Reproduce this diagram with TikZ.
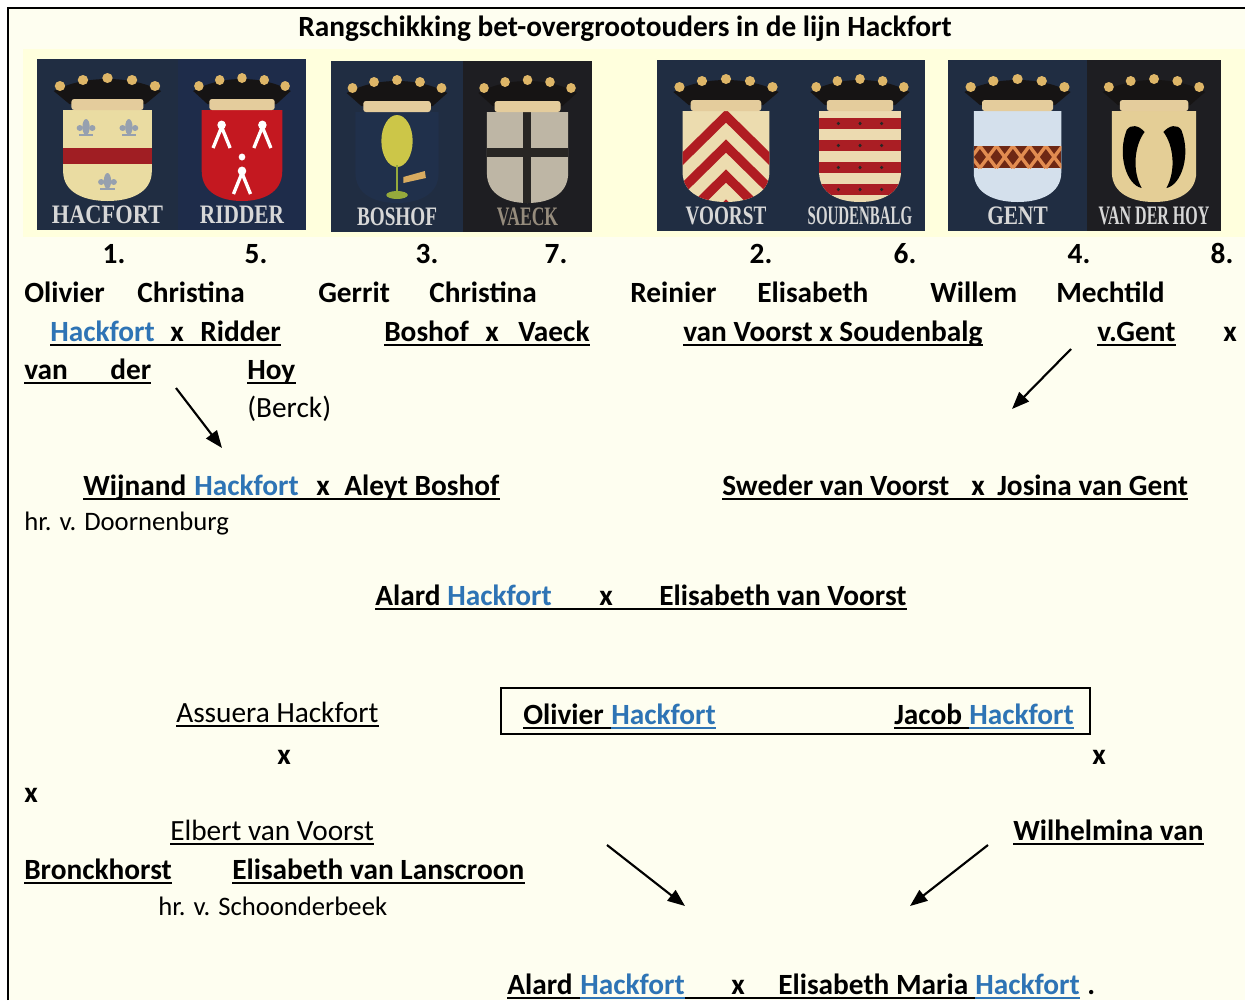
\documentclass[tikz,border=0pt]{standalone}
\usepackage{fontspec}
\usepackage{graphicx}
\setmainfont{Carlito}
\newfontfamily\armsfont{Liberation Serif}
\usetikzlibrary{positioning,arrows.meta}

\definecolor{paper}{RGB}{254,254,240}
\definecolor{band}{RGB}{255,255,221}
\definecolor{hblue}{RGB}{46,116,181}
\definecolor{navy}{RGB}{32,45,66}
\definecolor{navyr}{RGB}{30,44,74}
\definecolor{darkbg}{RGB}{30,30,34}
\definecolor{crownblk}{RGB}{22,20,20}
\definecolor{gold}{RGB}{222,182,104}
\definecolor{beige}{RGB}{228,204,156}
\definecolor{lblgrey}{RGB}{215,215,215}
\definecolor{lbldim}{RGB}{150,140,125}
\definecolor{hcream}{RGB}{234,220,162}
\definecolor{hred}{RGB}{160,30,35}
\definecolor{fleur}{RGB}{150,160,175}
\definecolor{rred}{RGB}{196,24,32}
\definecolor{shnavy}{RGB}{32,48,75}
\definecolor{treey}{RGB}{204,198,72}
\definecolor{treeg}{RGB}{150,170,60}
\definecolor{vgrey}{RGB}{190,182,165}
\definecolor{vdark}{RGB}{40,38,36}
\definecolor{vcream}{RGB}{236,220,175}
\definecolor{vred}{RGB}{176,28,34}
\definecolor{sred}{RGB}{170,30,36}
\definecolor{scream}{RGB}{236,218,176}
\definecolor{gpale}{RGB}{212,224,236}
\definecolor{gbrown}{RGB}{110,40,20}
\definecolor{gorange}{RGB}{226,140,80}
\definecolor{hgold}{RGB}{228,206,150}

\newcommand{\bsize}{\fontsize{22}{26}\selectfont}
\newcommand{\ssize}{\fontsize{20}{24}\selectfont}
\newcommand{\shieldpath}{(25,51) -- (25,112) .. controls (25,134) and (46,142) .. (67.5,142) .. controls (89,142) and (110,134) .. (110,112) -- (110,51) -- cycle}
% one painted tile: background, field, crown, name
\newcommand{\tile}[5]{%
  \fill[#1] (0,0) rectangle (135,171);
  #5
  \fill[crownblk] (16,32) .. controls (45,16) and (90,16) .. (119,32) -- (104,45) -- (31,45) -- cycle;
  \foreach \cx/\cy in {22/27,44/21,67.5/19,91/21,113/27} \fill[gold] (\cx,\cy) circle (5);
  \fill[beige, rounded corners=2pt] (33,40) rectangle (102,51);
  \node[lbl] (#2) at (67.5,156) {\scalebox{#4}[1]{#3}};
}
\newcommand{\under}[3][black]{\draw[ul,#1] ([yshift=-3pt]#2.base west) -- ([yshift=-3pt]#3.base east);}

\tikzset{
  nm/.style={inner sep=0pt, anchor=base west, font=\bsize\bfseries},
  rg/.style={inner sep=0pt, anchor=base west, font=\bsize},
  sm/.style={inner sep=0pt, anchor=base west, font=\ssize},
  ul/.style={line width=1.5pt},
  arr/.style={line width=1.6pt, -{Triangle[length=13pt,width=10pt]}},
  lbl/.style={inner sep=0pt, font=\armsfont\bfseries\fontsize{20}{20}\selectfont, text=lblgrey},
}

\begin{document}
\begin{tikzpicture}[x=0.75pt,y=-0.75pt]
  \useasboundingbox (0,0) rectangle (1245,1000);
  \fill[white] (0,0) rectangle (1245,1000);
  \fill[paper] (8,8) rectangle (1245,1000);
  \fill[band] (23,49) rectangle (1245,237);
  \draw[line width=1.8pt] (8,1000) -- (8,8) -- (1245,8);

  \node[nm, anchor=base] (title) at (625,36) {Rangschikking bet-overgrootouders in de lijn Hackfort};

  % the eight coats of arms
  \begin{scope}[shift={(37,59)}, xscale=1.044]
    \tile{navy}{arms1}{HACFORT}{0.84}{
      \fill[hcream] \shieldpath;
      \fill[hred] (25,89) rectangle (110,105);
      \foreach \fx/\fy in {47/68,88/68,67.5/122} {
        \fill[fleur] (\fx,\fy) ellipse (3.5 and 8);
        \fill[fleur] ({\fx-6},{\fy+1}) circle (3);
        \fill[fleur] ({\fx+6},{\fy+1}) circle (3);
        \fill[fleur] ({\fx-7},{\fy+7}) rectangle ({\fx+7},{\fy+9});
      }}
  \end{scope}
  \begin{scope}[shift={(178,59)}, xscale=0.948]
    \tile{navyr}{arms5}{RIDDER}{0.8}{
      \fill[rred] \shieldpath;
      \foreach \fx/\fy in {46/74,89/74,67.5/120} {
        \draw[white, line width=2.5pt] ({\fx-9},{\fy+15}) -- (\fx,{\fy-6}) -- ({\fx+9},{\fy+15});
        \fill[white] (\fx,{\fy-8}) circle (4.5);
      }
      \fill[white] (67.5,98) circle (3.5);}
  \end{scope}
  \begin{scope}[shift={(331,61)}, xscale=0.978]
    \tile{navy}{arms3}{BOSHOF}{0.72}{
      \fill[shnavy] \shieldpath;
      \fill[treey] (67.5,80) ellipse (16 and 26);
      \draw[treeg, line width=2pt] (67.5,104) -- (67.5,132);
      \fill[treeg] (67.5,134) ellipse (11 and 4);
      \fill[gold!80!brown] (74,116) -- (96,110) -- (97,117) -- (74,122) -- cycle;}
  \end{scope}
  \begin{scope}[shift={(463,61)}, xscale=0.956]
    \tile{darkbg}{arms7}{\color{lbldim}VAECK}{0.66}{
      \fill[vgrey] \shieldpath;
      \begin{scope}
        \clip \shieldpath;
        \fill[vdark] (63,40) rectangle (71,150);
        \fill[vdark] (20,87) rectangle (115,96);
      \end{scope}}
  \end{scope}
  \begin{scope}[shift={(657,60)}, xscale=1.022]
    \tile{navy}{arms2}{VOORST}{0.72}{
      \fill[vcream] \shieldpath;
      \begin{scope}
        \clip \shieldpath;
        \foreach \dy in {0,30,60,90}
          \draw[vred, line width=7pt] (-30,{154+\dy}) -- (67.5,{56+\dy}) -- (165,{154+\dy});
      \end{scope}}
  \end{scope}
  \begin{scope}[shift={(795,60)}, xscale=0.963]
    \tile{navy}{arms6}{SOUDENBALG}{0.56}{
      \fill[scream] \shieldpath;
      \begin{scope}
        \clip \shieldpath;
        \foreach \by in {58,80,102,124} {
          \fill[sred] (20,\by) rectangle (115,{\by+11});
          \foreach \mx in {45,67.5,90} \fill[vdark] (\mx,{\by+5.5}) circle (1.8);
        }
      \end{scope}}
  \end{scope}
  \begin{scope}[shift={(948,60)}, xscale=1.03]
    \tile{navy}{arms4}{GENT}{0.8}{
      \fill[gpale] \shieldpath;
      \fill[gbrown] (25,86) rectangle (110,108);
      \begin{scope}
        \clip (25,86) rectangle (110,108);
        \foreach \lx in {25,41,...,121}
          \draw[gorange, line width=2.5pt] ({\lx-10},86) -- ({\lx+6},108) ({\lx+6},86) -- ({\lx-10},108);
      \end{scope}}
  \end{scope}
  \begin{scope}[shift={(1087,60)}, xscale=0.993]
    \tile{darkbg}{arms8}{VAN DER HOY}{0.6}{
      \fill[hgold] \shieldpath;
      \fill[black] (40,70) .. controls (30,95) and (40,125) .. (55,128) .. controls (45,110) and (48,85) .. (58,72) .. controls (52,65) and (44,64) .. cycle;
      \fill[black] (95,70) .. controls (105,95) and (95,125) .. (80,128) .. controls (90,110) and (87,85) .. (77,72) .. controls (83,65) and (91,64) .. cycle;}
  \end{scope}

  % numbers and first names
  \foreach \n/\x in {1/114,5/256,3/427,7/556,2/761,6/905,4/1079,8/1222}
    \node[nm, anchor=base] (n\n) at (\x,263) {\n.};
  \foreach \k/\x/\t in {1/24/Olivier,5/137/Christina,3/318/Gerrit,7/429/Christina,2/630/Reinier,6/757/Elisabeth,4/930/Willem,8/1056/Mechtild}
    \node[nm] (f\k) at (\x,302) {\t};

  % family names
  \node[nm, text=hblue] (hack1) at (50,341) {Hackfort};
  \node[nm] (x1) at (170,341) {x};
  \node[nm] (ridder) at (200,341) {Ridder};
  \node[nm] (boshof) at (384,341) {Boshof};
  \node[nm] (x3) at (485,341) {x};
  \node[nm] (vaeck) at (518,341) {Vaeck};
  \node[nm] (voorst) at (683,341) {van Voorst x Soudenbalg};
  \node[nm] (gent) at (1097,341) {v.Gent};
  \node[nm] (x4) at (1223,341) {x};
  \node[nm] (van) at (24,379) {van};
  \node[nm] (der) at (110,379) {der};
  \node[nm] (hoy) at (247,379) {Hoy};
  \node[rg] (berck) at (247,417) {(Berck)};
  \under{hack1}{ridder}
  \under{boshof}{vaeck}
  \under{voorst}{voorst}
  \under{gent}{gent}
  \under{van}{der}
  \under{hoy}{hoy}

  \coordinate (a1s) at (176,388);
  \coordinate (a1e) at (222,448);
  \coordinate (a2s) at (1071,349);
  \coordinate (a2e) at (1012,409);
  \draw[arr] (a1s) -- (a1e);
  \draw[arr] (a2s) -- (a2e);

  % grandparents
  \node[nm] (wijnand) at (83,495) {Wijnand};
  \node[nm, text=hblue] (hack2) at (194,495) {Hackfort};
  \node[nm] (x5) at (316,495) {x};
  \node[nm] (aleyt) at (344,495) {Aleyt Boshof};
  \node[nm] (sweder) at (722,495) {Sweder van Voorst};
  \node[nm] (x6) at (971,495) {x};
  \node[nm] (josina) at (997,495) {Josina van Gent};
  \node[sm] (doorn) at (24,530) {hr. v. Doornenburg};
  \under{wijnand}{aleyt}
  \under{sweder}{josina}

  % parents
  \node[nm] (alard1) at (375,605) {Alard};
  \node[nm, text=hblue] (hack3) at (447,605) {Hackfort};
  \node[nm] (x7) at (599,605) {x};
  \node[nm] (elis1) at (659,605) {Elisabeth van Voorst};
  \under{alard1}{elis1}

  % the two sons
  \draw[line width=1.5pt] (501,688) rectangle (1090,734);
  \node[nm] (oli2) at (523,724) {Olivier};
  \node[nm, text=hblue] (hack4) at (611,724) {Hackfort};
  \node[nm] (jacob) at (894,724) {Jacob};
  \node[nm, text=hblue] (hack5) at (969,724) {Hackfort};
  \draw[ul] ([yshift=-3pt]oli2.base west) -- ([yshift=-3pt]hack4.base west);
  \under[hblue]{hack4}{hack4}
  \draw[ul] ([yshift=-3pt]jacob.base west) -- ([yshift=-3pt]hack5.base west);
  \under[hblue]{hack5}{hack5}

  % their wives
  \node[rg] (assuera) at (176,722) {Assuera Hackfort};
  \node[nm] (x8) at (277,764) {x};
  \node[nm] (x9) at (1092,764) {x};
  \node[nm] (x10) at (24,802) {x};
  \node[rg] (elbert) at (170,840) {Elbert van Voorst};
  \node[nm] (wilh) at (1013,840) {Wilhelmina van};
  \node[nm] (bronck) at (24,879) {Bronckhorst};
  \node[nm] (lansc) at (232,879) {Elisabeth van Lanscroon};
  \node[sm] (schoon) at (158,915) {hr. v. Schoonderbeek};
  \under{assuera}{assuera}
  \under{elbert}{elbert}
  \under{wilh}{wilh}
  \under{bronck}{bronck}
  \under{lansc}{lansc}

  \coordinate (a3s) at (607,845);
  \coordinate (a3e) at (685,906);
  \coordinate (a4s) at (988,845);
  \coordinate (a4e) at (910,906);
  \draw[arr] (a3s) -- (a3e);
  \draw[arr] (a4s) -- (a4e);

  % last couple
  \node[nm] (alard2) at (507,994) {Alard};
  \node[nm, text=hblue] (hack6) at (580,994) {Hackfort};
  \node[nm] (x11) at (731,994) {x};
  \node[nm] (elis2) at (778,994) {Elisabeth Maria};
  \node[nm, text=hblue] (hack7) at (975,994) {Hackfort};
  \node[nm] (dot) at (1087,994) {.};
  \draw[ul] ([yshift=-3pt]alard2.base west) -- ([yshift=-3pt]hack6.base west);
  \under[hblue]{hack6}{hack6}
  \draw[ul] ([yshift=-3pt]hack6.base east) -- ([yshift=-3pt]hack7.base west);
  \under[hblue]{hack7}{hack7}
\end{tikzpicture}
\end{document}
